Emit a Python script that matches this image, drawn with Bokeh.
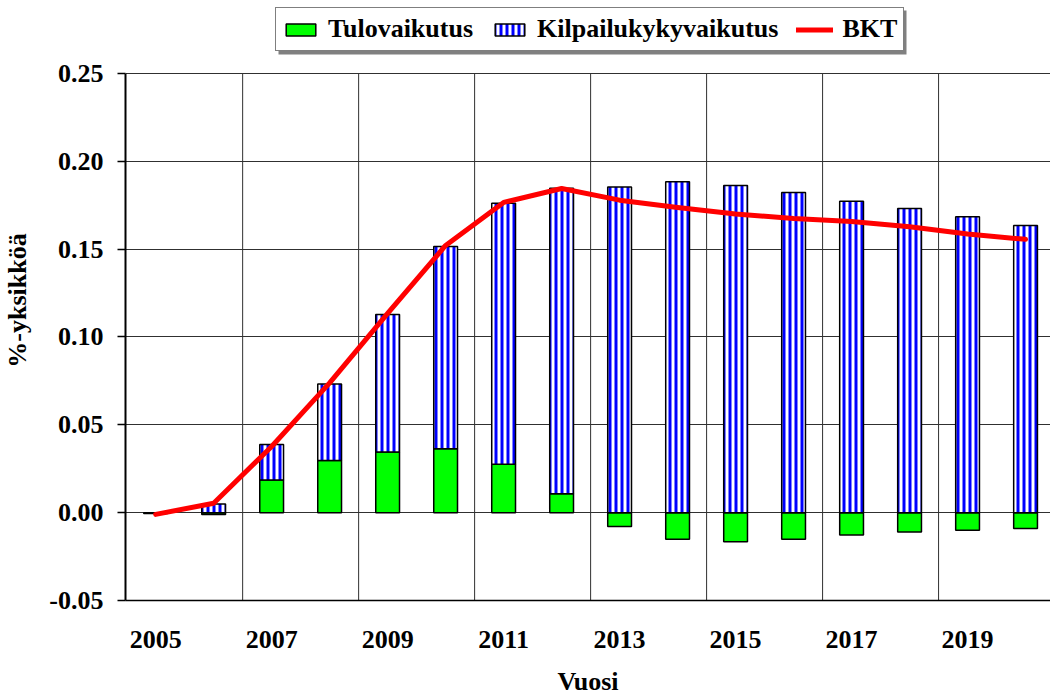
from bokeh.plotting import figure
from bokeh.models import (ColumnDataSource, Range1d, FixedTicker, Legend, LegendItem,
                          CustomJSTickFormatter, BoxAnnotation)
from bokeh.embed import file_html
from bokeh.resources import INLINE

# ---- data ----
years = list(range(2005, 2021))
tulovaikutus = [-0.0005, -0.001, 0.0185, 0.0296, 0.0345, 0.0364, 0.0275, 0.0108,
                -0.0079, -0.0151, -0.0166, -0.0151, -0.0127, -0.0110, -0.0100, -0.0090]
kilpailukykyvaikutus = [0.0, 0.0049, 0.0202, 0.0436, 0.0783, 0.1150, 0.1486, 0.1738,
                        0.1853, 0.1882, 0.1861, 0.1821, 0.1772, 0.1731, 0.1684, 0.1634]
bkt = [-0.001, 0.0053, 0.0376, 0.0738, 0.1134, 0.1520, 0.1765, 0.1844,
       0.1778, 0.1736, 0.1699, 0.1674, 0.1657, 0.1627, 0.1585, 0.1555]
x_tick_labels = [2005, 2007, 2009, 2011, 2013, 2015, 2017, 2019]
y_ticks = [-0.05, 0.0, 0.05, 0.10, 0.15, 0.20, 0.25]
year_grid = [2006.5, 2008.5, 2010.5, 2012.5, 2014.5, 2016.5, 2018.5]
y_min, y_max = -0.05, 0.25

blue_bottom = [max(t, 0.0) for t in tulovaikutus]
blue_top = [b + k for b, k in zip(blue_bottom, kilpailukykyvaikutus)]

src = ColumnDataSource(dict(
    year=years, tulo=tulovaikutus, zero=[0.0] * len(years),
    bb=blue_bottom, bt=blue_top, bkt=bkt,
))

FONT = "Liberation Serif"

# frame extends above 0.25 so the legend (drawn inside the frame) sits above the plot area
p = figure(width=1050, height=698, output_backend="svg", toolbar_location=None,
           x_range=Range1d(2004.48, 2020.43), y_range=Range1d(y_min, 0.2914),
           min_border_left=125, min_border_top=0, min_border_bottom=96, min_border_right=0)
p.outline_line_color = None
p.background_fill_color = "white"
p.border_fill_color = "white"

# vertical grid lines limited to the plot area
p.segment(x0=year_grid, y0=[y_min] * len(year_grid), x1=year_grid, y1=[y_max] * len(year_grid),
          line_color="#303030", line_width=1, level="underlay")

bar_w = 0.41
r_green = p.vbar(x="year", bottom="zero", top="tulo", width=bar_w, source=src,
                 fill_color="#00FF00", line_color="black", line_width=1.5)
r_blue = p.vbar(x="year", bottom="bb", top="bt", width=bar_w, source=src,
                fill_color="white", line_color="black", line_width=1.5,
                hatch_pattern="vertical_line", hatch_color="#0000FF",
                hatch_weight=3, hatch_scale=6)
r_line = p.line(x="year", y="bkt", source=src, line_color="#FF0000", line_width=5,
                line_cap="round", line_join="round")

# axes
p.xaxis.ticker = FixedTicker(ticks=x_tick_labels)
p.xaxis.major_tick_line_color = None
p.xaxis.minor_tick_line_color = None
p.xaxis.major_label_standoff = 24
p.xaxis.axis_line_color = "black"
p.xaxis.axis_line_width = 1.5
p.xaxis.axis_label = "Vuosi"
p.xaxis.axis_label_standoff = 16

p.yaxis.ticker = FixedTicker(ticks=y_ticks)
p.yaxis.bounds = (y_min, y_max)
p.yaxis.formatter = CustomJSTickFormatter(code="return tick.toFixed(2);")
p.yaxis.major_tick_out = 8
p.yaxis.major_tick_in = 0
p.yaxis.minor_tick_line_color = None
p.yaxis.major_tick_line_color = "black"
p.yaxis.major_tick_line_width = 1.5
p.yaxis.major_label_standoff = 14
p.yaxis.axis_line_color = "black"
p.yaxis.axis_line_width = 2
p.yaxis.axis_label = "%-yksikköä"
p.yaxis.axis_label_standoff = 14

for ax in (p.xaxis[0], p.yaxis[0]):
    ax.major_label_text_font = FONT
    ax.major_label_text_font_style = "bold"
    ax.major_label_text_font_size = "26px"
    ax.major_label_text_color = "black"
    ax.axis_label_text_font = FONT
    ax.axis_label_text_font_style = "bold"
    ax.axis_label_text_font_size = "26px"
    ax.axis_label_text_color = "black"

# grids
p.ygrid.ticker = FixedTicker(ticks=y_ticks)
p.ygrid.grid_line_color = "#303030"
p.ygrid.grid_line_width = 1
p.xgrid.visible = False

# legend drop shadow (screen units, frame-relative)
shadow = BoxAnnotation(left=153, right=781, bottom=546, top=590,
                       left_units="screen", right_units="screen",
                       bottom_units="screen", top_units="screen",
                       fill_color="#808080", fill_alpha=1, line_color=None)
p.add_layout(shadow)

legend = Legend(items=[
    LegendItem(label="Tulovaikutus", renderers=[r_green]),
    LegendItem(label="Kilpailukykyvaikutus", renderers=[r_blue]),
    LegendItem(label="BKT", renderers=[r_line]),
], orientation="horizontal", location=(150, 549))
legend.border_line_color = "black"
legend.border_line_width = 1.5
legend.background_fill_color = "white"
legend.background_fill_alpha = 1
legend.label_text_font = FONT
legend.label_text_font_style = "bold"
legend.label_text_font_size = "26px"
legend.label_text_color = "black"
legend.glyph_width = 37
legend.glyph_height = 15
legend.label_standoff = 9
legend.spacing = 18
legend.padding = 6
legend.margin = 0
p.add_layout(legend, "center")

open("out.html", "w").write(file_html(p, INLINE))
